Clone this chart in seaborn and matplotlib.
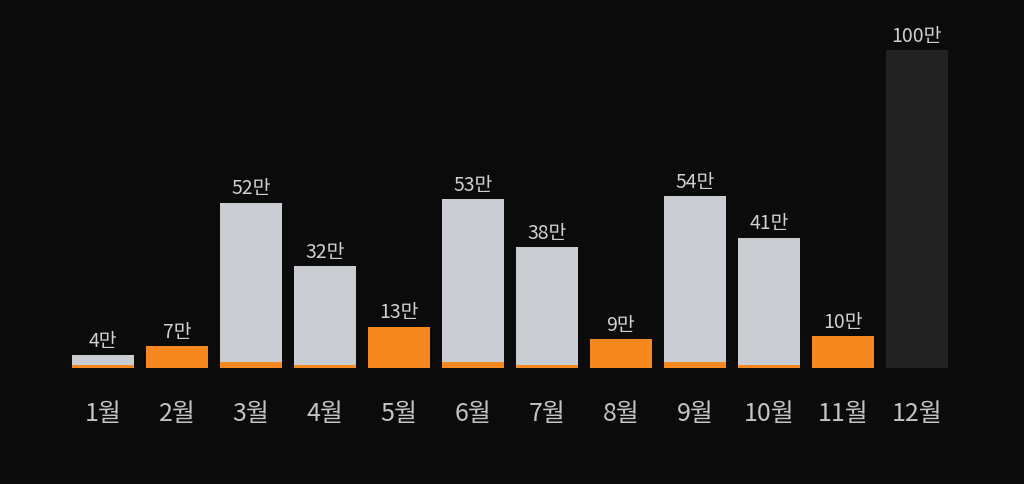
import matplotlib
matplotlib.use("Agg")
import matplotlib.pyplot as plt
import seaborn as sns
import pandas as pd

months = ["1월", "2월", "3월", "4월", "5월", "6월", "7월", "8월", "9월", "10월", "11월", "12월"]
totals = [4, 7, 52, 32, 13, 53, 38, 9, 54, 41, 10, 100]
orange_part = [1, 7, 2, 1, 13, 2, 1, 9, 2, 1, 10, 0]
labels = ["4만", "7만", "52만", "32만", "13만", "53만", "38만", "9만", "54만", "41만", "10만", "100만"]

BG = "#0b0b0b"
GRAY = "#c9ccd1"
ORANGE = "#f5891f"
DARK = "#222222"

sns.set_theme(style="white")
plt.rcParams["font.family"] = ["Noto Sans CJK KR", "DejaVu Sans"]

df = pd.DataFrame({"month": months, "total": totals, "orange": orange_part})

fig = plt.figure(figsize=(10.24, 4.84), dpi=100, facecolor=BG)
ax = fig.add_axes([72 / 1024, (484 - 368) / 484, (948 - 72) / 1024, (368 - 50) / 484])
ax.set_facecolor(BG)

top_colors = [GRAY] * 11 + [DARK]
sns.barplot(data=df, x="month", y="total", hue="month", palette=top_colors,
            width=0.84, legend=False, ax=ax, saturation=1, linewidth=0, edgecolor="none")
sns.barplot(data=df, x="month", y="orange", color=ORANGE, width=0.84, ax=ax,
            saturation=1, linewidth=0, edgecolor="none")

ax.set_xlim(-0.42, 11.42)
ax.set_ylim(0, 100)
for s in ax.spines.values():
    s.set_visible(False)
ax.set_yticks([])
ax.set_xlabel("")
ax.set_ylabel("")
ax.tick_params(axis="x", length=0, pad=24, labelsize=18, labelcolor="#c4c4c4")
for t in ax.get_xticklabels():
    t.set_fontweight("medium")

for i, (v, lab) in enumerate(zip(totals, labels)):
    ax.text(i, v + 1.0, lab, ha="center", va="bottom", color="#d0d0d0", fontsize=14, clip_on=False)

fig.savefig("out.png", dpi=100, facecolor=BG)
